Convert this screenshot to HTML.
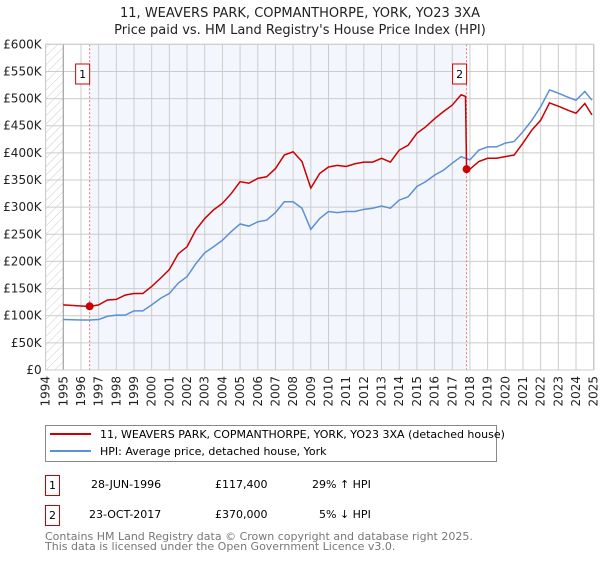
<!DOCTYPE html>
<html><head><meta charset="utf-8"><style>
body{margin:0;background:#fff;width:600px;height:560px;overflow:hidden;font-family:"DejaVu Sans","Liberation Sans",sans-serif}
svg text{font-family:"DejaVu Sans","Liberation Sans",sans-serif}
</style></head><body>
<svg id="chart" width="600" height="560" xmlns="http://www.w3.org/2000/svg">
<defs><pattern id="hatch" width="6" height="6" patternUnits="userSpaceOnUse" patternTransform="rotate(45)"><line x1="0" y1="0" x2="0" y2="6" stroke="#ccc" stroke-width="1"/></pattern></defs>
<text x="300" y="17" text-anchor="middle" font-size="13" fill="#222">11, WEAVERS PARK, COPMANTHORPE, YORK, YO23 3XA</text>
<text x="300" y="34" text-anchor="middle" font-size="13" fill="#222">Price paid vs. HM Land Registry's House Price Index (HPI)</text>
<g id="plot"></g>
<rect x="45.5" y="425.5" width="451" height="36" fill="#fff" stroke="#888"/>
<line x1="50" y1="434" x2="91" y2="434" stroke="#cc0000" stroke-width="2"/>
<text x="100" y="438" font-size="11" fill="#000">11, WEAVERS PARK, COPMANTHORPE, YORK, YO23 3XA (detached house)</text>
<line x1="50" y1="451" x2="91" y2="451" stroke="#5b8fd6" stroke-width="2"/>
<text x="100" y="455" font-size="11" fill="#000">HPI: Average price, detached house, York</text>
<g font-size="11" fill="#000">
<rect x="45.5" y="475.5" width="14" height="20" fill="#fff" stroke="#cc0000"/>
<text x="52.5" y="489" text-anchor="middle">1</text>
<text x="91" y="488">28-JUN-1996</text>
<text x="215" y="488">£117,400</text>
<text x="312" y="488">29% ↑ HPI</text>
</g>
<g font-size="11" fill="#000">
<rect x="45.5" y="505.5" width="14" height="20" fill="#fff" stroke="#cc0000"/>
<text x="52.5" y="519" text-anchor="middle">2</text>
<text x="89" y="518">23-OCT-2017</text>
<text x="215" y="518">£370,000</text>
<text x="319" y="518">5% ↓ HPI</text>
</g>
<text x="45" y="540" font-size="11" fill="#777">Contains HM Land Registry data © Crown copyright and database right 2025.</text>
<text x="45" y="550" font-size="11" fill="#777">This data is licensed under the Open Government Licence v3.0.</text>
</svg>
<script>
const hpiYears=[1995,1996,1996.5,1997,1997.5,1998,1998.5,1999,1999.5,2000,2000.5,2001,2001.5,2002,2002.5,2003,2003.5,2004,2004.5,2005,2005.5,2006,2006.5,2007,2007.5,2008,2008.5,2009,2009.5,2010,2010.5,2011,2011.5,2012,2012.5,2013,2013.5,2014,2014.5,2015,2015.5,2016,2016.5,2017,2017.5,2018,2018.5,2019,2019.5,2020,2020.5,2021,2021.5,2022,2022.5,2023,2023.5,2024,2024.5,2024.9];
const hpiValues=[93,92,92,93,99,101,101,109,109,120,132,141,160,172,196,216,227,239,255,269,265,273,276,290,310,310,298,259,279,292,290,292,292,296,298,302,298,313,319,338,347,359,368,381,393,387,405,411,411,418,421,439,460,485,516,510,503,497,513,497];
const priceYears=[1995,1996,1996.5,1997,1997.5,1998,1998.5,1999,1999.5,2000,2000.5,2001,2001.5,2002,2002.5,2003,2003.5,2004,2004.5,2005,2005.5,2006,2006.5,2007,2007.5,2008,2008.5,2009,2009.5,2010,2010.5,2011,2011.5,2012,2012.5,2013,2013.5,2014,2014.5,2015,2015.5,2016,2016.5,2017,2017.5,2017.75,2017.81,2018,2018.5,2019,2019.5,2020,2020.5,2021,2021.5,2022,2022.5,2023,2023.5,2024,2024.5,2024.9];
const priceValues=[120,118,117,120,129,130,138,141,141,154,169,185,214,227,258,279,295,307,325,347,344,353,356,371,396,402,384,335,362,374,377,375,380,383,383,390,383,405,414,436,448,463,476,488,507,504,370,370,384,390,390,393,396,418,442,460,492,486,479,473,491,470];
const saleYears=[1996.49,2017.81];
const saleValues=[117.4,370];
const saleLabels=["1","2"];
const yTicks=[0,50,100,150,200,250,300,350,400,450,500,550,600];
const yTickLabels=["£0","£50K","£100K","£150K","£200K","£250K","£300K","£350K","£400K","£450K","£500K","£550K","£600K"];
const xTicks=[1994,1995,1996,1997,1998,1999,2000,2001,2002,2003,2004,2005,2006,2007,2008,2009,2010,2011,2012,2013,2014,2015,2016,2017,2018,2019,2020,2021,2022,2023,2024,2025];

const X0=45.6,X1=593.7,Y0=370,Y1=44.3;
const xs=y=>X0+(y-1994)/(2025-1994)*(X1-X0);
const ys=v=>Y0-(v/600)*(Y0-Y1);
const NS="http://www.w3.org/2000/svg";
const g=document.getElementById('plot');
function mk(t,a){const e=document.createElementNS(NS,t);for(const k in a)e.setAttribute(k,a[k]);g.appendChild(e);return e;}

let e;
e=mk('rect',{x:X0,y:Y1,width:X1-X0,height:Y0-Y1,fill:'#fff'});


e=mk('rect',{x:X0,y:Y1,width:xs(1995)-X0,height:Y0-Y1,fill:'url(#hatch)'});


e=mk('rect',{x:xs(saleYears[0]),y:Y1,width:xs(saleYears[1])-xs(saleYears[0]),height:Y0-Y1,fill:'#eef3fc',opacity:0.7});


yTicks.forEach((v,i)=>{
  e=mk('line',{x1:X0,x2:X1,y1:ys(v),y2:ys(v),stroke:'#ccc','stroke-width':1});
  
  
  e=mk('text',{x:X0-4,y:ys(v)+4,'text-anchor':'end','font-size':12,fill:'#222'});
  e.textContent=yTickLabels[i];
  
  
});
xTicks.forEach(yr=>{
  e=mk('line',{x1:xs(yr),x2:xs(yr),y1:Y1,y2:Y0,stroke:'#ccc','stroke-width':1});
  
  
  e=mk('text',{x:0,y:0,'font-size':12,fill:'#222','text-anchor':'end',transform:`translate(${xs(yr)+4},${Y0+6}) rotate(-90)`});
  e.textContent=yr;
  
  
});
e=mk('line',{x1:xs(1995),x2:xs(1995),y1:Y1,y2:Y0,stroke:'#999'});


e=mk('line',{x1:X1,x2:X1,y1:Y1,y2:Y0,stroke:'#999'});


saleYears.forEach((yr,i)=>{
  e=mk('line',{x1:xs(yr),x2:xs(yr),y1:Y1,y2:Y0,stroke:'#f07070','stroke-dasharray':'2,2'});
  
  
});
e=mk('polyline',{points:hpiYears.map((y,i)=>xs(y)+','+ys(hpiValues[i])).join(' '),fill:'none',stroke:'#5b8fd6','stroke-width':1.5});


e=mk('polyline',{points:priceYears.map((y,i)=>xs(y)+','+ys(priceValues[i])).join(' '),fill:'none',stroke:'#cc0000','stroke-width':1.5});


saleYears.forEach((yr,i)=>{
  e=mk('circle',{cx:xs(yr),cy:ys(saleValues[i]),r:4,fill:'#cc0000'});
  
  
  const bx=xs(yr)-7;
  e=mk('rect',{x:bx-7,y:64,width:14,height:20,fill:'#fff',stroke:'#cc0000'});
  
  
  e=mk('text',{x:bx,y:78,'text-anchor':'middle','font-size':11,fill:'#000'});
  e.textContent=saleLabels[i];
  
  
});
e=mk('rect',{x:X0,y:Y1,width:X1-X0,height:Y0-Y1,fill:'none',stroke:'#ccc'});


</script>
</body></html>
